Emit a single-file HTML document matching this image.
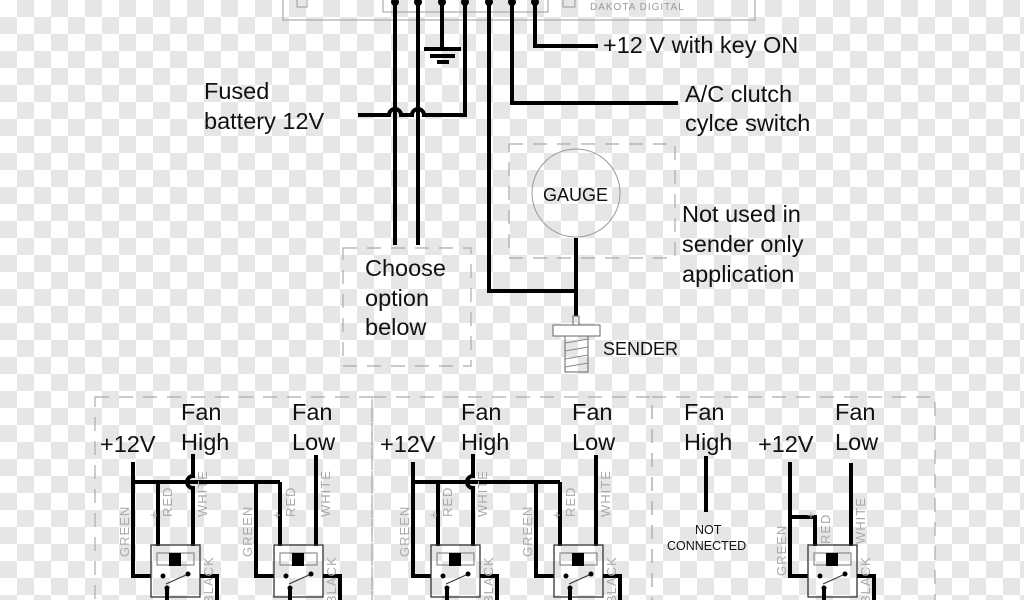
<!DOCTYPE html>
<html><head><style>
html,body{margin:0;padding:0;}
body{width:1024px;height:600px;overflow:hidden;
background-color:#fff;
background-image:linear-gradient(45deg,#e6e6e6 25%,transparent 25%,transparent 75%,#e6e6e6 75%),linear-gradient(45deg,#e6e6e6 25%,transparent 25%,transparent 75%,#e6e6e6 75%);
background-size:34px 34px;background-position:0 0,17px 17px;}
svg{position:absolute;left:0;top:0;}
text{font-family:"Liberation Sans",sans-serif;fill:#111;}
.w{stroke:#000;stroke-width:4;fill:none;}
.g{stroke:#999;stroke-width:1;fill:none;}
.d{stroke:#aaa;stroke-width:1.2;fill:none;stroke-dasharray:14 10;}
.big{font-size:23.5px;}
.lab{font-size:13px;fill:#aaa;letter-spacing:1px;}
</style></head><body>
<svg width="1024" height="600" viewBox="0 0 1024 600">
<defs>
<g id="relay">
<rect x="0" y="0" width="49" height="52" fill="none" stroke="#333" stroke-width="1.3"/>
<rect x="6" y="8" width="37" height="12" fill="none" stroke="#777" stroke-width="1"/>
<rect x="18" y="8" width="12" height="13" fill="#000"/>
<circle cx="12" cy="31" r="2.5" fill="#000"/><circle cx="37" cy="29" r="2.5" fill="#000"/><circle cx="16" cy="43" r="2.5" fill="#000"/>
<line x1="15" y1="39" x2="35" y2="30" stroke="#333" stroke-width="1"/>
<polyline class="w" points="49,31 66,31 66,56"/>
<line class="w" x1="16" y1="43" x2="16" y2="56"/>
<text x="7" y="-26" class="lab" transform="rotate(-90 7 -26)">+</text>
</g>
</defs>
<rect x="283" y="-5" width="472" height="25" class="g"/>
<rect x="383" y="-5" width="165" height="17" class="g"/>
<text x="590" y="10" font-size="10" style="fill:#999;letter-spacing:1px">DAKOTA DIGITAL</text>
<rect x="563" y="-3" width="12" height="10" class="g"/><rect x="297" y="-3" width="10" height="10" class="g"/>
<g fill="#000"><circle cx="395" cy="2" r="4"/><circle cx="418" cy="2" r="4"/><circle cx="442" cy="2" r="4"/><circle cx="465" cy="2" r="4"/><circle cx="489" cy="2" r="4"/><circle cx="512" cy="2" r="4"/><circle cx="535" cy="2" r="4"/></g>
<line class="w" x1="395" y1="2" x2="395" y2="245"/>
<line class="w" x1="418" y1="2" x2="418" y2="245"/>
<line class="w" x1="442" y1="2" x2="442" y2="48"/>
<line class="w" x1="424" y1="49" x2="461" y2="49"/>
<line class="w" x1="430" y1="56" x2="455" y2="56"/>
<line class="w" x1="437" y1="62" x2="449" y2="62"/>
<path class="w" d="M465 2 V115 H424 a6 6 0 0 0 -12 0 H401 a6 6 0 0 0 -12 0 H358"/>
<polyline class="w" points="489,2 489,291 576,291"/>
<polyline class="w" points="512,2 512,103 678,103"/>
<polyline class="w" points="535,2 535,46 598,46"/>
<text x="603" y="53" class="big">+12 V with key ON</text>
<text x="685" y="102" class="big">A/C clutch</text>
<text x="685" y="131" class="big">cylce switch</text>
<text x="204" y="99" class="big">Fused</text>
<text x="204" y="129" class="big">battery 12V</text>
<rect x="509" y="144" width="166" height="114" class="d"/>
<circle cx="576" cy="193" r="44" fill="none" stroke="#999" stroke-width="1"/>
<text x="543" y="201" font-size="18">GAUGE</text>
<line class="w" x1="576" y1="238" x2="576" y2="316"/>
<rect x="573" y="316" width="6" height="9" fill="none" stroke="#666"/>
<rect x="553" y="325" width="47" height="11" fill="#fff" stroke="#666"/>
<rect x="565" y="336" width="23" height="36" fill="none" stroke="#666"/>
<g stroke="#888"><line x1="565" y1="343" x2="588" y2="339"/><line x1="565" y1="351" x2="588" y2="347"/><line x1="565" y1="359" x2="588" y2="355"/><line x1="565" y1="367" x2="588" y2="363"/></g>
<text x="603" y="355" font-size="18">SENDER</text>
<text x="682" y="222" class="big">Not used in</text>
<text x="682" y="252" class="big">sender only</text>
<text x="682" y="282" class="big">application</text>
<rect x="343" y="248" width="128" height="118" class="d"/>
<text x="365" y="276" class="big">Choose</text>
<text x="365" y="306" class="big">option</text>
<text x="365" y="335" class="big">below</text>
<rect x="95" y="397" width="277" height="220" class="d"/>
<rect x="372" y="397" width="280" height="220" class="d"/>
<rect x="652" y="397" width="283" height="220" class="d"/>
<g id="sec">
<text x="100" y="452" class="big">+12V</text>
<text x="181" y="420" class="big">Fan</text><text x="181" y="450" class="big">High</text>
<text x="292" y="420" class="big">Fan</text><text x="292" y="450" class="big">Low</text>
<polyline class="w" points="133,462 133,576 151,576"/>
<line class="w" x1="133" y1="482" x2="280" y2="482"/>
<path class="w" d="M193 454 V476 a6 6 0 0 0 0 12 V546"/>
<line class="w" x1="158" y1="482" x2="158" y2="546"/>
<polyline class="w" points="256,482 256,576 274,576"/>
<line class="w" x1="280" y1="482" x2="280" y2="546"/>
<line class="w" x1="316" y1="455" x2="316" y2="546"/>
<use href="#relay" x="151" y="545"/>
<use href="#relay" x="274" y="545"/>
<g class="lab">
<text x="129" y="557" transform="rotate(-90 129 557)" style="fill:#aaa">GREEN</text>
<text x="172" y="517" transform="rotate(-90 172 517)" style="fill:#aaa">RED</text>
<text x="207" y="517" transform="rotate(-90 207 517)" style="fill:#aaa">WHITE</text>
<text x="252" y="557" transform="rotate(-90 252 557)" style="fill:#aaa">GREEN</text>
<text x="295" y="517" transform="rotate(-90 295 517)" style="fill:#aaa">RED</text>
<text x="330" y="517" transform="rotate(-90 330 517)" style="fill:#aaa">WHITE</text>
<text x="213" y="604" transform="rotate(-90 213 604)" style="fill:#aaa">BLACK</text>
<text x="336" y="604" transform="rotate(-90 336 604)" style="fill:#aaa">BLACK</text>
</g>
</g>
<use href="#sec" x="280" y="0"/>
<text x="684" y="420" class="big">Fan</text><text x="684" y="450" class="big">High</text>
<line class="w" x1="706" y1="456" x2="706" y2="512"/>
<text x="695" y="534" font-size="12.5">NOT</text>
<text x="667" y="550" font-size="12.5">CONNECTED</text>
<text x="758" y="452" class="big">+12V</text>
<text x="835" y="420" class="big">Fan</text><text x="835" y="450" class="big">Low</text>
<polyline class="w" points="790,462 790,576 808,576"/>
<polyline class="w" points="790,517 815,517 815,546"/>
<line class="w" x1="851" y1="463" x2="851" y2="546"/>
<use href="#relay" x="808" y="545"/>
<text x="786" y="576" transform="rotate(-90 786 576)" class="lab" style="fill:#aaa">GREEN</text>
<text x="830" y="544" transform="rotate(-90 830 544)" class="lab" style="fill:#aaa">RED</text>
<text x="865" y="544" transform="rotate(-90 865 544)" class="lab" style="fill:#aaa">WHITE</text>
<text x="870" y="604" transform="rotate(-90 870 604)" class="lab" style="fill:#aaa">BLACK</text>
</svg>
</body></html>
